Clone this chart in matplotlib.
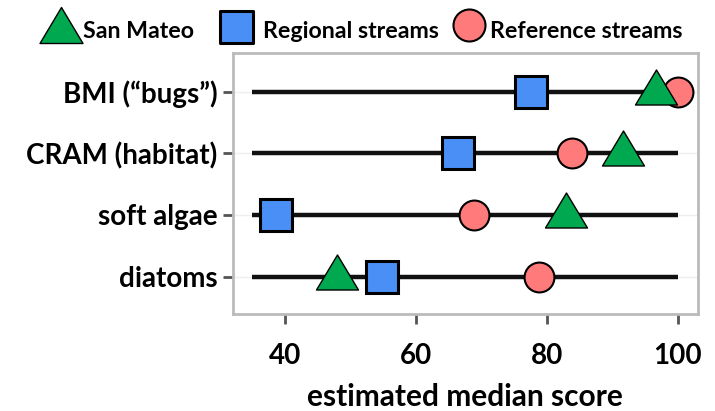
import matplotlib
matplotlib.use("Agg")
import matplotlib.pyplot as plt
from matplotlib.path import Path
from matplotlib.lines import Line2D

categories = ["BMI (\u201cbugs\u201d)", "CRAM (habitat)", "soft algae", "diatoms"]
san_mateo = [96.7, 91.7, 83.0, 47.9]
regional = [77.6, 66.5, 38.7, 54.8]
reference = [100.0, 83.9, 68.9, 78.8]
line_start = [35, 35, 35, 35]
line_end = [100, 100, 100, 100]
xticks = [40, 60, 80, 100]
series_names = ['San Mateo', 'Regional streams', 'Reference streams']

plt.rcParams['font.family'] = ['Lato', 'DejaVu Sans']
plt.rcParams['font.weight'] = 'bold'

GREEN = '#00a94f'
BLUE = '#4a8ff5'
PINK = '#ff7b7b'

W, H = 715, 411
tri = Path([(-21, -12.5), (21, -12.5), (0, 22.5), (-21, -12.5)],
           [Path.MOVETO, Path.LINETO, Path.LINETO, Path.CLOSEPOLY])

fig = plt.figure(figsize=(W / 100, H / 100), dpi=100)
ax = fig.add_axes([232.5 / W, 1 - 313.5 / H, (698 - 232.5) / W, (313.5 - 53) / H])

ypos = [3, 2, 1, 0]
for y, a, b in zip(ypos, line_start, line_end):
    ax.plot([a, b], [y, y], color='#111111', lw=3.2, solid_capstyle='butt', zorder=2)

ax.plot(regional, ypos, ls='none', marker='s', ms=23, mfc=BLUE, mec='black', mew=2.2, zorder=3)
ax.plot(reference, ypos, ls='none', marker='o', ms=21.5, mfc=PINK, mec='black', mew=1.5, zorder=4)
ax.plot(san_mateo, ypos, ls='none', marker=tri, ms=32.4, mfc=GREEN, mec='black', mew=1.0, zorder=5)

ax.set_xlim(32, 103.1)
ax.set_ylim(-0.6, 3.63)
ax.set_yticks(ypos)
ax.set_yticklabels(categories, fontsize=20, fontweight='bold')
ax.set_xticks(xticks)
ax.set_xticklabels([str(t) for t in xticks], fontsize=20, fontweight='bold')
ax.set_xlabel('estimated median score', fontsize=21.5, fontweight='bold', labelpad=10)
ax.grid(axis='y', color='#eeeeee', lw=1)
ax.set_axisbelow(True)
for s in ax.spines.values():
    s.set_color('#bbbbbb')
    s.set_linewidth(2)
ax.tick_params(axis='both', color='#555555', width=2, length=7)
ax.tick_params(axis='x', pad=14)
ax.tick_params(axis='y', pad=4)

# legend (placed manually in figure pixels)
leg_tri = Path([(-21.5, -18), (21.5, -18), (0, 18), (-21.5, -18)],
               [Path.MOVETO, Path.LINETO, Path.LINETO, Path.CLOSEPOLY])
leg_sq = Path([(-16.5, -16), (16.5, -16), (16.5, 16), (-16.5, 16), (-16.5, -16)],
              [Path.MOVETO, Path.LINETO, Path.LINETO, Path.LINETO, Path.CLOSEPOLY])
leg_markers = [(leg_tri, 43 * 0.72, GREEN, 1.0), (leg_sq, 33 * 0.72, BLUE, 2.2), ('o', 32 * 0.72, PINK, 1.5)]
marker_x = [61, 235.5, 469]
marker_y = [25, 27, 25]
text_x = [83, 263, 490]
for (m, ms, c, mew), mx, my, tx, name in zip(leg_markers, marker_x, marker_y, text_x, series_names):
    fig.add_artist(Line2D([mx / W], [1 - my / H], transform=fig.transFigure, ls='none',
                          marker=m, ms=ms, mfc=c, mec='black', mew=mew))
    fig.text(tx / W, 1 - 31 / H, name, fontsize=16.7, fontweight='bold', ha='left', va='center')

fig.savefig('out.png', dpi=100)
